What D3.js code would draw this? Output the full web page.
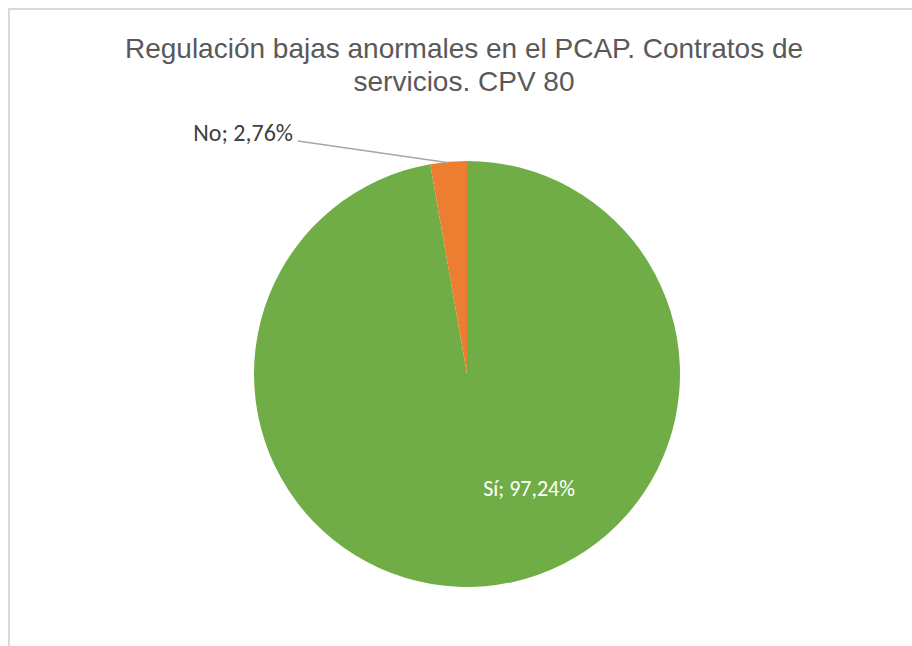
<!DOCTYPE html>
<html>
<head>
<meta charset="utf-8">
<script src="https://cdn.jsdelivr.net/npm/d3@7"></script>
<style>
  body { margin: 0; background: #fff; }
</style>
</head>
<body>
<div id="chart"></div>
<script>
var categories = ['Sí', 'No'];
var values = [97.24, 2.76];
var labels = ['Sí; 97,24%', 'No; 2,76%'];
var colores = ['#70AD47', '#ED7D31'];

var width = 912, height = 646;
var cx = 467, cy = 374, radius = 213;

var svg = d3.select('#chart')
    .append('svg')
    .attr('width', width)
    .attr('height', height);

// marco del grafico
svg.append('rect')
    .attr('x', 9).attr('y', 9)
    .attr('width', width + 10).attr('height', height + 10)
    .attr('fill', 'none')
    .attr('stroke', '#d9d9d9')
    .attr('stroke-width', 2);

var title = svg.append('text')
    .attr('text-anchor', 'middle')
    .style('font-family', '"Liberation Sans", Arial, sans-serif')
    .style('font-size', '28px')
    .style('fill', '#595959');
title.append('tspan').attr('x', 464).attr('y', 58).text('Regulación bajas anormales en el PCAP. Contratos de');
title.append('tspan').attr('x', 464).attr('y', 91).text('servicios. CPV 80');

var data = categories.map(function(c, i) { return { cat: c, value: values[i], label: labels[i] }; });

var pie = d3.pie()
    .sort(null)
    .value(function(d) { return d.value; })(data);

var arc = d3.arc()
    .innerRadius(0)
    .outerRadius(radius);

var g = svg.append('g')
    .attr('transform', 'translate(' + cx + ',' + cy + ')');

g.selectAll('.arc')
    .data(pie)
    .enter().append('path')
    .attr('class', 'arc')
    .attr('d', arc)
    .style('fill', function(d, i) { return colores[i]; });

// etiqueta interior (Sí)
var inner = d3.arc().innerRadius(radius * 0.6).outerRadius(radius * 0.6);
var cSi = inner.centroid(pie[0]);
g.append('text')
    .attr('x', cSi[0] + 51)
    .attr('y', cSi[1] - 5)
    .attr('text-anchor', 'middle')
    .style('font-family', 'Carlito, Calibri, Lato, sans-serif')
    .style('font-size', '22px')
    .style('fill', '#fff')
    .text(pie[0].data.label);

// etiqueta exterior (No) con linea guia
var edge = d3.arc().innerRadius(radius * 0.995).outerRadius(radius * 0.995);
var pNo = edge.centroid(pie[1]);
var lx = 298 - cx, ly = 141 - cy;
g.append('polyline')
    .attr('points', [[lx, ly], [pNo[0], pNo[1]]].map(function(p) { return p.join(','); }).join(' '))
    .attr('fill', 'none')
    .attr('stroke', '#a6a6a6')
    .attr('stroke-width', 1.5);
g.append('text')
    .attr('x', lx - 5)
    .attr('y', ly)
    .attr('text-anchor', 'end')
    .style('font-family', 'Carlito, Calibri, Lato, sans-serif')
    .style('font-size', '24px')
    .style('fill', '#404040')
    .text(pie[1].data.label);
</script>
</body>
</html>
